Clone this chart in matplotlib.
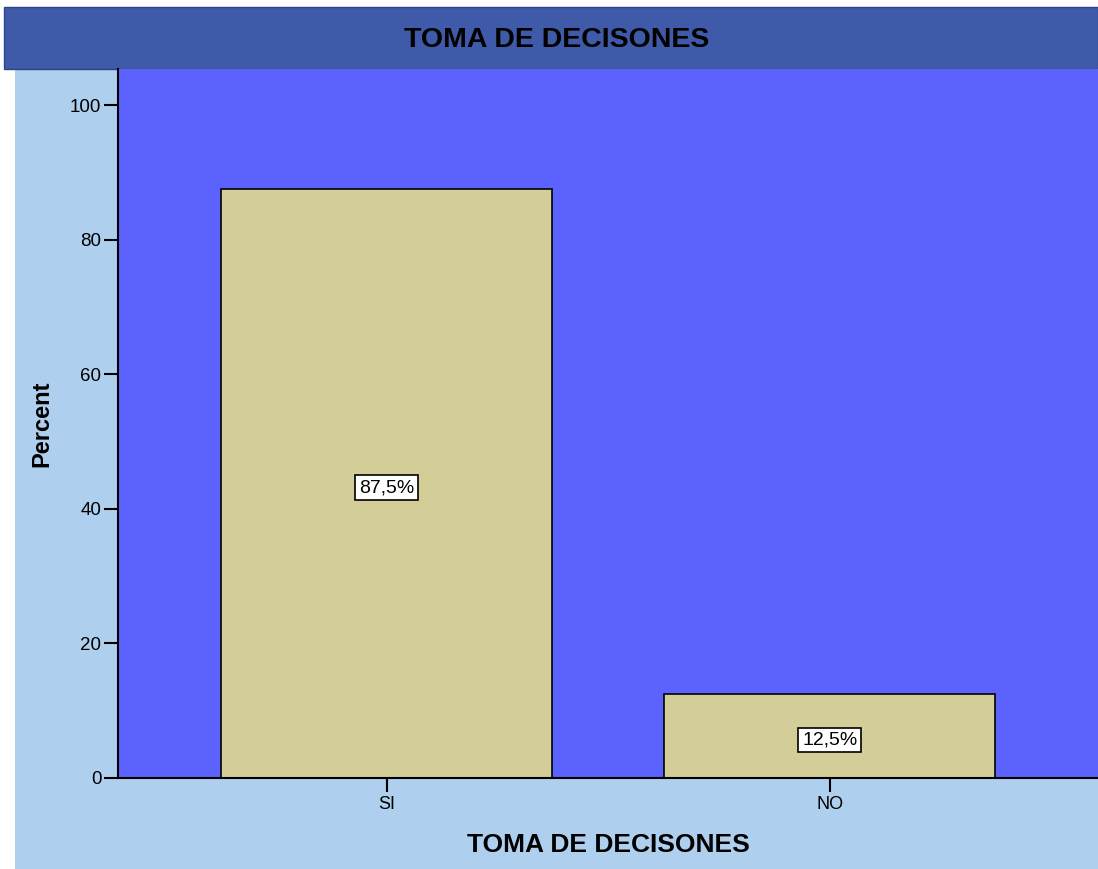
import matplotlib
matplotlib.use("Agg")
import matplotlib.pyplot as plt
from matplotlib.patches import Rectangle

categories = ["SI", "NO"]
percents = [87.5, 12.5]
value_labels = ["87,5%", "12,5%"]
title = "TOMA DE DECISONES"
xlabel = "TOMA DE DECISONES"
ylabel = "Percent"
yticks = [0, 20, 40, 60, 80, 100]

plt.rcParams["font.family"] = ["Liberation Sans", "DejaVu Sans"]

W, H = 1098, 869
fig = plt.figure(figsize=(W / 100, H / 100), dpi=100)
fig.patch.set_facecolor("white")

# light blue frame and dark title bar, behind the axes
fig.patches.append(Rectangle((15 / W, 0), 1 - 15 / W, 1 - 69 / H,
                             transform=fig.transFigure, facecolor="#aecfed",
                             edgecolor="none", zorder=-2))
fig.patches.append(Rectangle((4 / W, 1 - 69 / H), 1 - 4 / W, 62 / H,
                             transform=fig.transFigure, facecolor="#3f5aa8",
                             edgecolor="#2f4585", lw=1, zorder=-2))
fig.text(557 / W, 1 - 40 / H, title, ha="center", va="center",
         fontsize=20.5, fontweight="bold", color="black")

ax = fig.add_axes([118 / W, 1 - 778 / H, (W - 118) / W, (778 - 69) / H])
ax.set_facecolor("#5c62fe")

x = list(range(len(categories)))
ax.bar(x, percents, width=0.747, color="#d3cd98", edgecolor="black", lw=1.2, zorder=2)
for xi, v, lbl in zip(x, percents, value_labels):
    ax.annotate(lbl, (xi, v / 2), xytext=(0, -3), textcoords="offset points",
                ha="center", va="center", fontsize=14, zorder=3,
                bbox=dict(boxstyle="square,pad=0.2", facecolor="white", edgecolor="black", lw=1.2))

ax.set_xlim(-0.607, 1.605)
ax.set_ylim(0, 105.35)
ax.set_xticks(x)
ax.set_xticklabels(categories, fontsize=13)
ax.set_yticks(yticks)
ax.set_yticklabels([str(t) for t in yticks], fontsize=13.5)
ax.tick_params(axis="y", length=10, width=1.5, pad=2)
ax.tick_params(axis="x", length=10, width=1.5, pad=3)
for s in ["top", "right"]:
    ax.spines[s].set_visible(False)
for s in ["left", "bottom"]:
    ax.spines[s].set_linewidth(1.5)
ax.set_xlabel(xlabel, fontsize=19, fontweight="bold", labelpad=14)
fig.text(42 / W, 1 - 424 / H, ylabel, rotation=90, ha="center", va="center",
         fontsize=17, fontweight="bold")

fig.savefig("out.png", dpi=100)
